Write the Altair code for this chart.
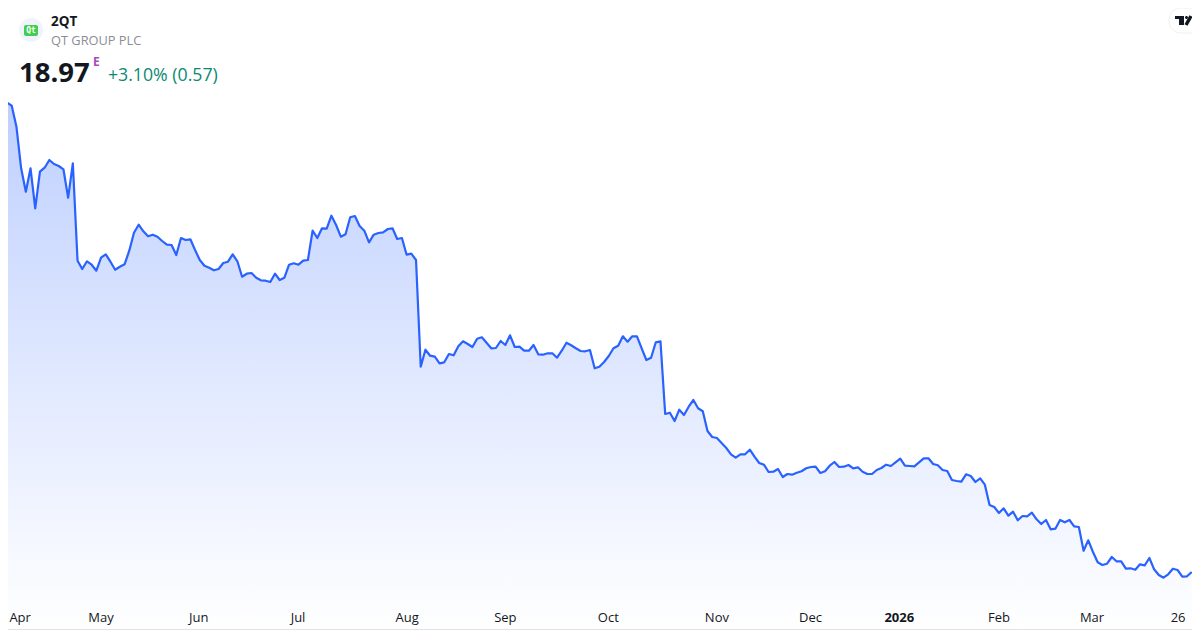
import altair as alt
import pandas as pd

prices = [
64.64,65.90,65.60,63.50,59.34,57.00,59.34,55.34,59.00,59.40,60.17,59.77,59.57,59.24,56.40,59.84,
50.10,49.27,50.04,49.70,49.10,50.40,50.74,50.00,49.20,49.50,49.74,51.10,52.90,53.70,53.04,52.54,
52.70,52.50,52.07,51.70,51.67,50.67,52.37,52.17,52.24,51.17,50.17,49.60,49.40,49.14,49.27,49.87,
50.00,50.74,50.04,48.50,48.80,48.87,48.40,48.14,48.10,47.97,48.80,48.17,48.40,49.70,49.84,49.70,
50.10,50.17,53.10,52.37,53.34,53.30,54.60,53.67,52.50,52.74,54.44,54.57,53.57,53.10,51.94,52.70,
52.87,52.94,53.27,53.34,52.27,52.37,50.70,50.80,50.17,39.50,41.20,40.60,40.50,39.84,39.94,40.77,
40.64,41.54,42.04,41.77,41.47,42.30,42.44,41.90,41.34,41.37,42.07,41.67,42.64,41.47,41.50,41.10,
41.10,41.67,40.74,40.70,40.84,40.84,40.40,41.10,41.90,41.64,41.34,41.07,41.04,41.17,
39.34,39.50,39.97,40.57,41.34,41.60,42.54,42.00,42.54,42.54,41.34,40.17,40.40,41.94,42.04,34.77,
34.90,34.07,35.20,34.67,35.50,36.17,35.34,35.04,33.07,32.47,32.37,31.87,31.37,30.74,30.40,30.74,
30.74,31.20,30.50,29.87,29.70,28.97,29.00,29.27,28.47,28.77,28.70,28.90,29.04,29.34,29.47,29.50,
28.87,29.04,29.60,29.97,29.47,29.50,29.67,29.34,29.44,29.00,28.77,28.77,29.17,29.37,29.70,29.57,
29.94,30.30,29.60,29.57,29.54,29.94,30.34,30.34,29.77,29.64,29.17,29.07,28.17,28.07,28.00,28.74,
28.57,27.97,28.34,27.70,25.67,25.47,24.87,25.34,24.60,25.00,24.14,24.57,24.54,24.90,24.24,23.77,
24.17,23.24,23.30,24.17,23.94,24.17,23.54,23.47,21.10,22.14,20.97,19.94,19.67,19.80,20.47,20.04,
20.04,19.30,19.34,19.20,19.74,19.64,20.37,19.24,18.67,18.40,18.74,19.30,19.17,18.50,18.54,18.97,
]
tick_labels = ["May","Jun","Jul","Aug","Sep","Oct","Nov","Dec","Feb","Mar","26"]
tick_pos = [21.0,41.8,62.9,86.1,107.0,128.9,152.0,171.9,212.0,231.8,250.1]
first_label = ["Apr"]
first_pos = [1.5]
year_label = ["2026"]
year_pos = [190.8]

FONT = "Open Sans"
N = len(prices)
step = (1191.7 - 2.33) / (N - 1)
xdom = [-2.33 / step, (1192 - 2.33) / step]
ydom = [13.17, 76.17]

df = pd.DataFrame({"i": list(range(N)), "price": prices})
ticks = pd.DataFrame({"i": tick_pos, "label": tick_labels})
first = pd.DataFrame({"i": first_pos, "label": first_label})
year = pd.DataFrame({"i": year_pos, "label": year_label})
X = alt.X("i:Q", scale=alt.Scale(domain=xdom, range=[0, 1192], nice=False, zero=False), axis=None)
Y = alt.Y("price:Q", scale=alt.Scale(domain=ydom, range=[630, 0], nice=False, zero=False), axis=None)

area = alt.Chart(df).mark_area(
    color=alt.Gradient(gradient="linear", x1=0, x2=0, y1=0, y2=1,
                       stops=[alt.GradientStop(color="#BFD0FF", offset=0),
                              alt.GradientStop(color="#FFFFFF", offset=0.8)])
).encode(x=X, y=Y, y2=alt.value(601))
line = alt.Chart(df).mark_line(color="#2962FF", strokeWidth=2.2, strokeJoin="round").encode(x=X, y=Y)

tick_text = alt.Chart(ticks).mark_text(font=FONT, fontSize=13, color="#131722", baseline="alphabetic", align="center").encode(
    x=X, y=alt.value(622), text="label:N")
first_text = alt.Chart(first).mark_text(font=FONT, fontSize=13, color="#131722", baseline="alphabetic", align="left").encode(
    x=X, y=alt.value(622), text="label:N")
year_text = alt.Chart(year).mark_text(font=FONT, fontSize=13, fontWeight="bold", color="#131722", baseline="alphabetic", align="center").encode(
    x=X, y=alt.value(622), text="label:N")

def label(txt, x, y, size, color, weight="normal"):
    return alt.Chart(pd.DataFrame({"t": [txt]})).mark_text(
        font=FONT, fontSize=size, color=color, fontWeight=weight, align="left", baseline="alphabetic"
    ).encode(x=alt.value(x), y=alt.value(y), text="t:N")

def box(x, x2, y, y2, color, radius=0, stroke=None):
    kw = {"fill": color, "cornerRadius": radius}
    if stroke:
        kw.update(stroke=stroke, strokeWidth=1)
    return alt.Chart(pd.DataFrame({"a": [0]})).mark_rect(**kw).encode(
        x=alt.value(x), x2=alt.value(x2), y=alt.value(y), y2=alt.value(y2))

def seg(x, x2, y, y2, color, w):
    return alt.Chart(pd.DataFrame({"a": [0]})).mark_rule(color=color, strokeWidth=w).encode(
        x=alt.value(x), x2=alt.value(x2), y=alt.value(y), y2=alt.value(y2))

logo_bg = box(19, 43, 18, 42, "#F0F3FA", radius=12)
logo_green = box(24, 38, 25, 36, "#41CD52", radius=2)
logo_txt = alt.Chart(pd.DataFrame({"t": ["Qt"]})).mark_text(
    font="DejaVu Sans Mono", fontSize=8, color="#FFFFFF", fontWeight="bold", align="center", baseline="middle"
).encode(x=alt.value(31), y=alt.value(30.5), text="t:N")

pill = box(1169, 1206, 8, 33, "#FFFFFF", radius=12, stroke="#EEF0F4")
tv = [
    box(1175, 1184, 16, 19, "#131722"),
    box(1179, 1184, 16, 25, "#131722"),
    box(1185, 1188, 16, 19, "#131722", radius=1.5),
    seg(1191, 1186, 16, 25, "#131722", 3.5),
]
frame = [seg(0, 1200, 629.5, 629.5, "#E0E3EB", 1)]

chart = alt.layer(
    area, line, tick_text, first_text, year_text,
    logo_bg, logo_green, logo_txt,
    label("2QT", 51, 26, 13.5, "#131722", 700),
    label("QT GROUP PLC", 51, 45, 12.8, "#8A8D96"),
    label("18.97", 19, 82, 27.5, "#131722", 700),
    label("E", 93, 66, 12, "#AB47BC", "bold"),
    label("+3.10% (0.57)", 108, 81, 17.7, "#0A8A72"),
    pill, *tv, *frame,
).properties(
    width=1192, height=630,
    padding={"left": -8, "top": -8, "right": 0, "bottom": 0},
    autosize=alt.AutoSizeParams(type="none"),
    background="#FFFFFF",
).configure_view(stroke=None)

chart.save("out.html", embed_options={"renderer": "svg", "actions": False})
